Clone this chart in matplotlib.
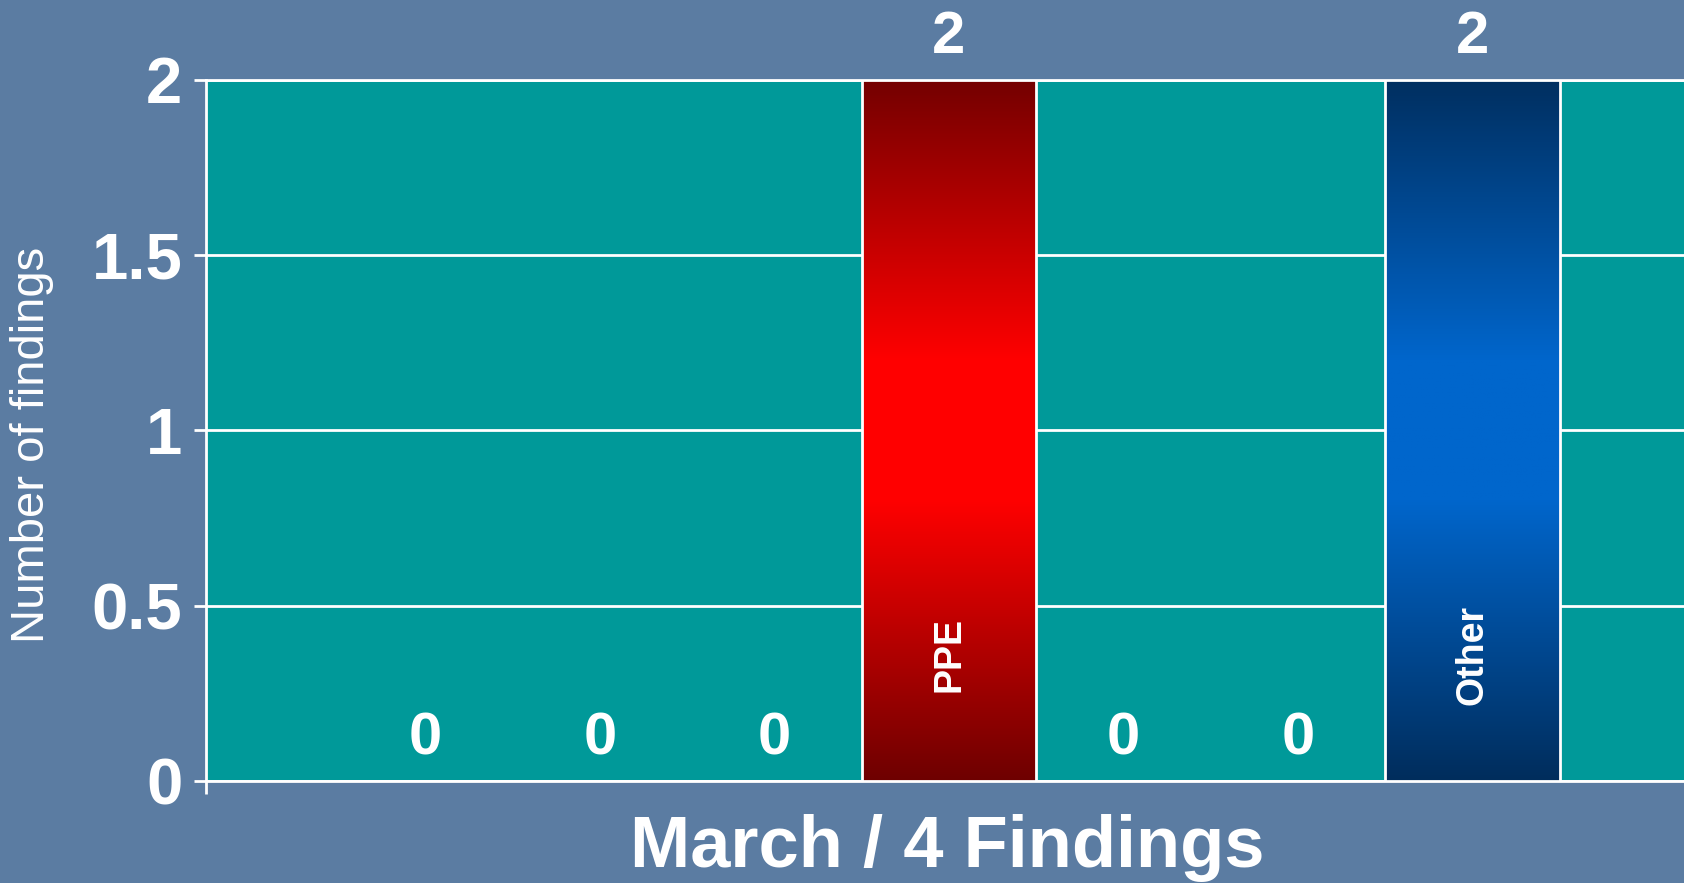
import numpy as np
import matplotlib
matplotlib.use("Agg")
import matplotlib.pyplot as plt
from matplotlib.colors import LinearSegmentedColormap

# March findings, one bar per finding type (only PPE and Other are named on the slide)
finding_types = ["", "", "", "PPE", "", "", "Other"]
finding_counts = [0, 0, 0, 2, 0, 0, 2]
y_ticks = [0, 0.5, 1, 1.5, 2]
y_tick_labels = ["0", "0.5", "1", "1.5", "2"]
x_title = "March / 4 Findings"
y_title = "Number of findings"

bg_color = "#5b7ca2"
teal = "#009999"
gradients = {
    "PPE": [(0, "#6e0000"), (0.4, "#ff0000"), (0.6, "#ff0000"), (1, "#740000")],
    "Other": [(0, "#002d5c"), (0.4, "#0066cc"), (0.6, "#0066cc"), (1, "#002f60")],
}

plt.rcParams["font.family"] = ["Liberation Sans", "DejaVu Sans"]

W, H = 1684, 883
fig = plt.figure(figsize=(W / 100, H / 100), dpi=100, facecolor=bg_color)
ax = fig.add_axes([206 / W, 1 - 781 / H, 1486 / W, (781 - 79.5) / H])
ax.set_facecolor(teal)

x = np.arange(len(finding_counts))
bars = ax.bar(x, finding_counts, width=1.0, color=teal, edgecolor="white",
              linewidth=2, zorder=3)

# gradient fill for the non-zero bars
for bar, name in zip(bars, finding_types):
    if name in gradients:
        cmap = LinearSegmentedColormap.from_list(name, gradients[name])
        x0, y0 = bar.get_x(), bar.get_y()
        w, h = bar.get_width(), bar.get_height()
        grad = np.linspace(0, 1, 256).reshape(-1, 1)
        im = ax.imshow(grad, cmap=cmap, extent=[x0, x0 + w, y0, y0 + h],
                       origin="lower", aspect="auto", zorder=2.9)
        im.set_clip_path(bar)
        bar.set_facecolor("none")
        ax.text(x0 + w / 2, 0.36, name, rotation=90, ha="center", va="center",
                color="white", fontsize=27, fontweight="bold", zorder=5)

# value labels, outside end
for bar, val in zip(bars, finding_counts):
    ax.annotate(f"{val:g}", (bar.get_x() + bar.get_width() / 2, bar.get_height()),
                xytext=(0, 30), textcoords="offset points", ha="center", va="center",
                color="white", fontsize=43, fontweight="bold", annotation_clip=False,
                zorder=6)

gap = 0.757
x_left = -0.5 - gap
ax.set_xlim(x_left, len(finding_counts) - 0.5 + gap)
ax.set_ylim(0, 2)

ax.set_yticks(y_ticks, y_tick_labels)
ax.tick_params(axis="y", colors="white", labelsize=47, length=9, width=2,
               pad=8, direction="out")
for lab in ax.get_yticklabels():
    lab.set_fontweight("bold")
ax.set_xticks([x_left], [""])
ax.tick_params(axis="x", colors="white", length=9, width=2, direction="out")

ax.yaxis.grid(True, color="white", linewidth=2)
ax.set_axisbelow(True)
for side in ["left", "bottom", "top"]:
    ax.spines[side].set_color("white")
    ax.spines[side].set_linewidth(2)
ax.spines["right"].set_visible(False)

fig.text(947 / W, 1 - 848 / H, x_title, ha="center", va="center",
         color="white", fontsize=52, fontweight="bold")
fig.text(32 / W, 1 - 445 / H, y_title, ha="center", va="center", rotation=90,
         color="white", fontsize=34)

fig.savefig("out.png", dpi=100, facecolor=bg_color)
